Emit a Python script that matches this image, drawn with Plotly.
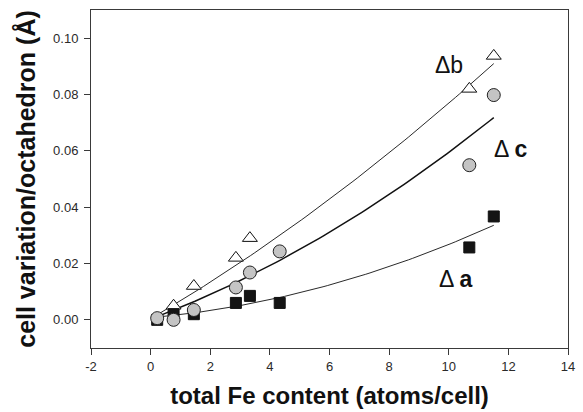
import numpy as np
import plotly.graph_objects as go

# Data
fe_b = [0.77, 1.45, 2.86, 3.33, 10.69, 11.51]
delta_b = [0.005, 0.012, 0.022, 0.029, 0.082, 0.0937]

fe_c = [0.22, 0.77, 1.45, 2.86, 3.33, 4.33, 10.69, 11.51]
delta_c = [0.0006, 0.0, 0.0035, 0.0115, 0.0168, 0.0243, 0.0549, 0.0798]

fe_a = [0.22, 0.77, 1.45, 2.86, 3.33, 4.33, 10.69, 11.51]
delta_a = [0.0, 0.002, 0.002, 0.006, 0.0085, 0.006, 0.0257, 0.0367]

# Quadratic fit coefficients (c0, c1, c2)
fit_b = [0.0004, 0.0062, 0.000145]
fit_c = [0.00026, 0.00397, 0.000195]
fit_a = [0.00075, 0.00094, 0.000166]
fit_range = [0.2, 11.51]

x_tickvals = [-2, 0, 2, 4, 6, 8, 10, 12, 14]
x_ticktext = ["-2", "0", "2", "4", "6", "8", "10", "12", "14"]

FONT = "Liberation Sans, Arial, sans-serif"

fig = go.Figure()

xs = np.linspace(fit_range[0], fit_range[1], 80)
for coef, w in [(fit_b, 0.9), (fit_c, 1.5), (fit_a, 0.9)]:
    ys = coef[0] + coef[1] * xs + coef[2] * xs ** 2
    fig.add_trace(go.Scatter(x=xs, y=ys, mode="lines",
                             line=dict(color="#111111", width=w), hoverinfo="skip"))

fig.add_trace(go.Scatter(x=fe_b, y=delta_b, mode="markers",
                         marker=dict(symbol="triangle-up", size=13, color="white",
                                     line=dict(color="#111111", width=1))))
fig.add_trace(go.Scatter(x=fe_a, y=delta_a, mode="markers",
                         marker=dict(symbol="square", size=11, color="#141414",
                                     line=dict(color="#111111", width=1))))
fig.add_trace(go.Scatter(x=fe_c, y=delta_c, mode="markers",
                         marker=dict(symbol="circle", size=13, color="#c4c4c4",
                                     line=dict(color="#222222", width=1))))

anns = [
    (10.0, 0.0904, "Δb"),
    (12.08, 0.0606, "Δ <b>c</b>"),
    (10.23, 0.0144, "Δ <b>a</b>"),
]
for x, y, t in anns:
    fig.add_annotation(x=x, y=y, text=t, showarrow=False, xanchor="center",
                       font=dict(family=FONT, size=23, color="#111111"))

fig.update_layout(
    width=583, height=412,
    margin=dict(l=91, r=8, t=10, b=63),
    paper_bgcolor="white", plot_bgcolor="white",
    showlegend=False,
    font=dict(family=FONT, size=13, color="#2a2a2a"),
    xaxis=dict(range=[-2, 14], tickvals=x_tickvals, ticktext=x_ticktext,
               showgrid=False, zeroline=False,
               showline=True, linecolor="#3a3a3a", linewidth=1, mirror=True,
               ticks="outside", ticklen=6, tickcolor="#3a3a3a",
               title=dict(text="<b>total Fe content (atoms/cell)</b>",
                          font=dict(family=FONT, size=24, color="#111111"), standoff=14)),
    yaxis=dict(range=[-0.01, 0.11], dtick=0.02, tick0=0, tickformat=".2f",
               showgrid=False, zeroline=False,
               showline=True, linecolor="#3a3a3a", linewidth=1, mirror=True,
               ticks="outside", ticklen=6, tickcolor="#3a3a3a", ticklabelstandoff=3,
               title=dict(text="<b>cell variation/octahedron (Å)</b>",
                          font=dict(family=FONT, size=25, color="#111111"), standoff=10)),
)

fig.write_html("out.html")
